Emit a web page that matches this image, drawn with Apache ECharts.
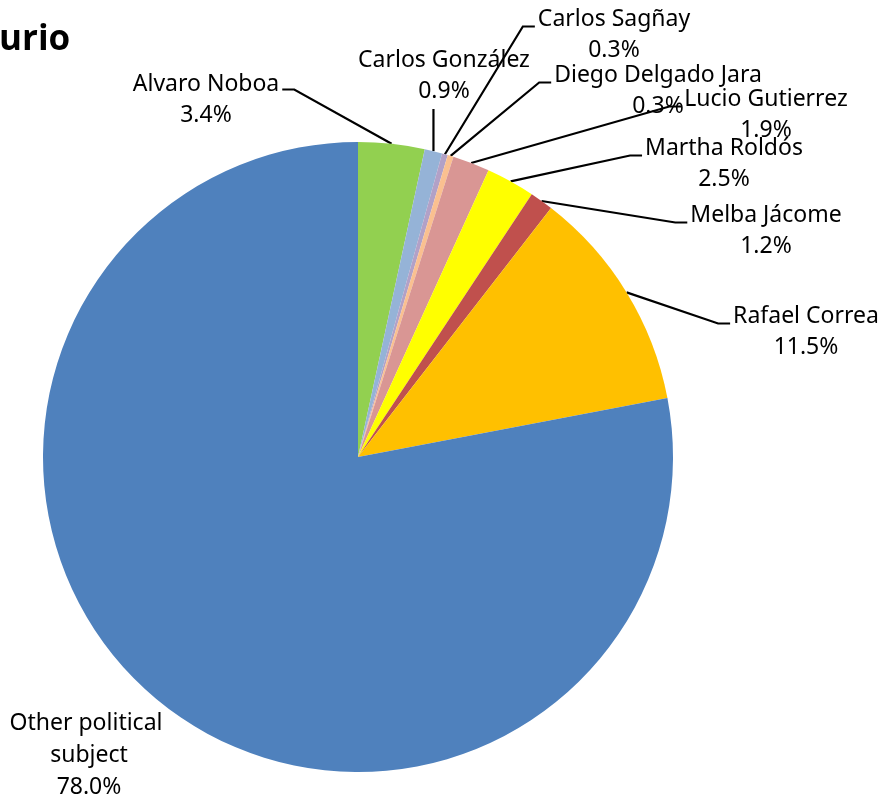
<!DOCTYPE html>
<html>
<head>
<meta charset="utf-8">
<script src="https://cdn.jsdelivr.net/npm/echarts@6/dist/echarts.min.js"></script>
<style>html,body{margin:0;padding:0;background:#fff;}#c{width:885px;height:801px;}</style>
</head>
<body>
<div id="c"></div>
<script>
const titleText = 'urio';
const names = ['Alvaro Noboa','Carlos González','Carlos Sagñay','Diego Delgado Jara','Lucio Gutierrez','Martha Roldós','Melba Jácome','Rafael Correa','Other political subject'];
const values = [3.4, 0.9, 0.3, 0.3, 1.9, 2.5, 1.2, 11.5, 78.0];
const colors = ['#92D050','#95B3D7','#B2A1C7','#FAC090','#D99694','#FFFF00','#C0504D','#FFC000','#4F81BD'];
// label placement (center of text block) and leader-line style: side of label the line attaches to
const labelPos = [[206,100],[444,76],[614,35],[658,91],[766,115],[724,164],[766,231],[806,332],[89,755]];
const lineSide = ['right','bottom','left','left','left','left','left','left','none'];

const chart = echarts.init(document.getElementById('c'));
const LH = 31;
chart.setOption({
  animation: false,
  title: {text: titleText, left: -6, top: 18, textStyle: {fontFamily: 'Open Sans', fontWeight: 'bold', fontSize: 35, color: '#000'}},
  series: [{
    type: 'pie',
    center: [358, 457],
    radius: 315,
    startAngle: 90,
    clockwise: true,
    avoidLabelOverlap: false,
    itemStyle: {borderWidth: 0},
    data: names.map((n, i) => ({name: n, value: values[i], itemStyle: {color: colors[i]},
      label: i === 8 ? {width: 175, overflow: 'break', lineHeight: 32} : {}})),
    label: {
      show: true,
      position: 'outside',
      fontFamily: 'Noto Sans',
      fontSize: 23,
      lineHeight: LH,
      color: '#000',
      align: 'center',
      formatter: p => p.name + '\n' + p.value.toFixed(1) + '%'
    },
    labelLine: {show: true, length: 20, length2: 10, lineStyle: {color: '#000', width: 2.2}},
    labelLayout: function (params) {
      const i = params.dataIndex;
      const [cx, cy] = labelPos[i];
      const w = params.labelRect.width, h = params.labelRect.height;
      const rx = cx - w / 2, ry = cy - h / 2;
      const p0 = params.labelLinePoints ? params.labelLinePoints[0] : [cx, cy];
      let pts;
      const side = lineSide[i];
      if (side === 'left') {
        const ey = ry + LH / 2 + 7;
        pts = [p0, [rx - 15, ey], [rx - 3, ey]];
      } else if (side === 'right') {
        const ey = ry + LH / 2 + 5;
        pts = [p0, [rx + w + 15, ey], [rx + w + 3, ey]];
      } else if (side === 'bottom') {
        pts = [p0, [p0[0], ry + h + 2], [p0[0], ry + h + 2]];
      } else {
        pts = [p0, p0, p0];
      }
      return {x: cx, y: cy, align: 'center', verticalAlign: 'middle', labelLinePoints: pts};
    }
  }]
});
</script>
</body>
</html>
